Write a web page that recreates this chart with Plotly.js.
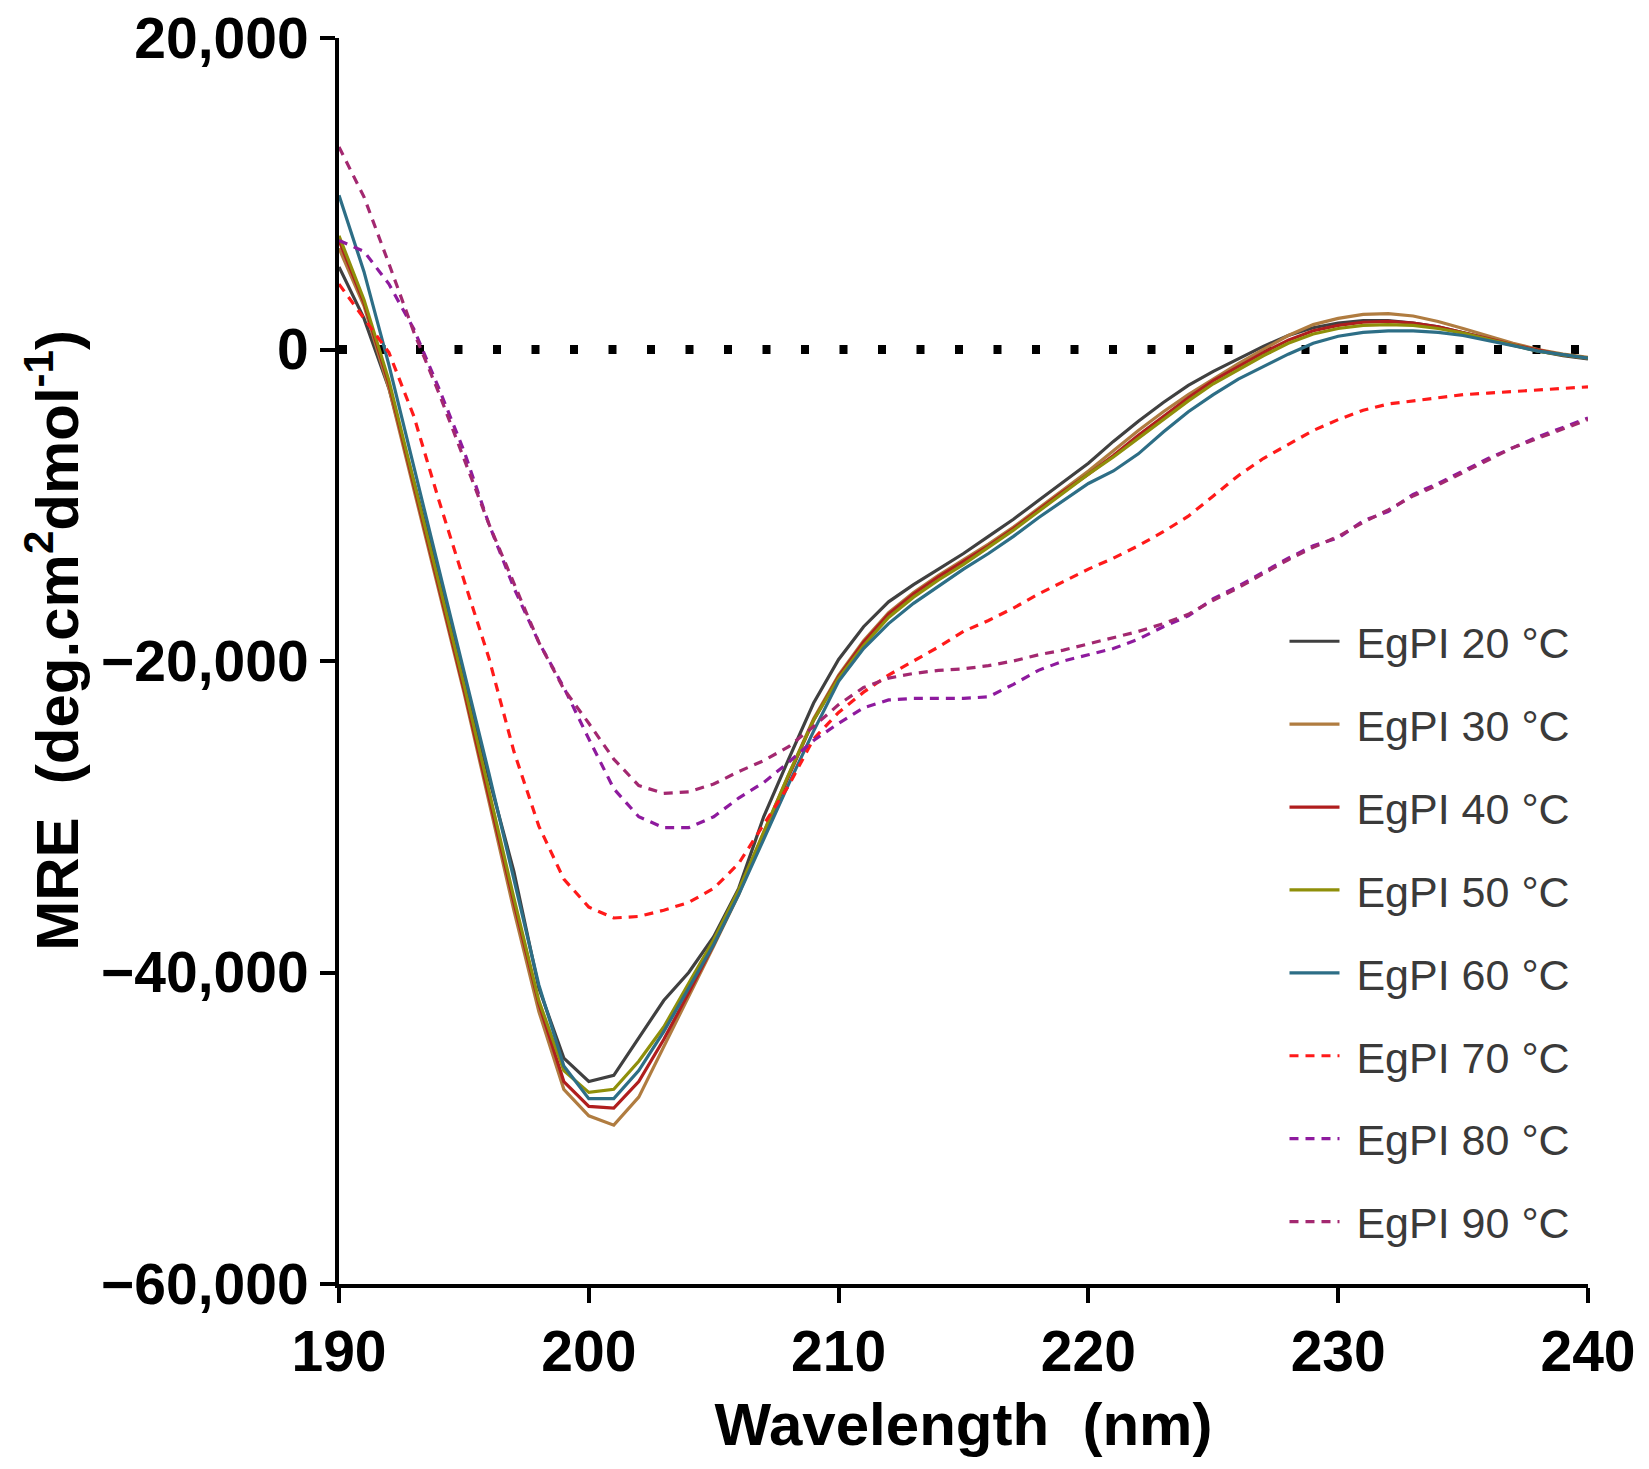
<!DOCTYPE html>
<html>
<head>
<meta charset="utf-8">
<script src="https://cdn.plot.ly/plotly-3.0.1.min.js"></script>
<style>
  body { margin: 0; background: #fff; }
  #cdchart { width: 1649px; height: 1469px; }
</style>
</head>
<body>
<div id="cdchart"></div>
<script>
// wavelength (nm)
var wavelength = [190, 191, 192, 193, 194, 195, 196, 197, 198, 199,
                  200, 201, 202, 203, 204, 205, 206, 207, 208, 209,
                  210, 211, 212, 213, 214, 215, 216, 217, 218, 219,
                  220, 221, 222, 223, 224, 225, 226, 227, 228, 229,
                  230, 231, 232, 233, 234, 235, 236, 237, 238, 239, 240];

// MRE values
var mre20 = [5300, 2000, -2500, -8500, -14500, -21000, -27500, -33500, -41000, -45500,
             -47000, -46600, -44200, -41800, -40000, -37700, -34600, -30000, -26300, -22700,
             -19900, -17800, -16200, -15100, -14100, -13100, -12000, -10900, -9700, -8500,
             -7300, -5900, -4600, -3400, -2300, -1400, -600, 200, 900, 1400,
             1700, 1850, 1850, 1700, 1450, 1100, 700, 300, -100, -400, -600];
var mre30 = [6500, 2800, -2500, -9000, -15500, -22000, -29000, -36000, -42500, -47500,
             -49200, -49800, -48000, -44800, -41500, -38300, -35000, -31000, -27300, -23700,
             -20900, -18700, -16900, -15600, -14500, -13500, -12500, -11400, -10200, -9000,
             -7800, -6500, -5200, -4000, -2900, -1900, -900, 0, 900, 1600,
             2000, 2250, 2300, 2150, 1800, 1350, 850, 400, 0, -300, -500];
var mre40 = [7000, 3000, -2200, -8800, -15200, -21800, -28700, -35500, -42000, -47000,
             -48600, -48700, -47000, -44300, -41300, -38200, -34900, -31100, -27400, -23800,
             -21000, -18800, -17000, -15700, -14600, -13600, -12600, -11500, -10300, -9100,
             -8000, -6800, -5500, -4300, -3100, -2000, -1100, -200, 600, 1200,
             1550, 1750, 1800, 1700, 1450, 1100, 700, 300, -50, -350, -550];
var mre50 = [7300, 3200, -2000, -8500, -15000, -21500, -28300, -35200, -41800, -46300,
             -47700, -47500, -45700, -43500, -40700, -37900, -34700, -31000, -27300, -23800,
             -21100, -19000, -17200, -15900, -14800, -13800, -12700, -11600, -10400, -9200,
             -8000, -6900, -5700, -4500, -3300, -2200, -1300, -400, 400, 1000,
             1350, 1550, 1600, 1550, 1350, 1050, 650, 250, -100, -350, -550];
var mre60 = [9900, 5000, -1000, -7500, -14000, -20500, -27200, -34000, -40800, -46000,
             -48100, -48100, -46300, -43800, -41000, -38200, -35000, -31400, -27900, -24500,
             -21300, -19200, -17600, -16300, -15200, -14100, -13100, -12000, -10800, -9700,
             -8600, -7800, -6700, -5300, -4000, -2900, -1900, -1100, -300, 400,
             850, 1100, 1200, 1200, 1100, 900, 600, 250, -100, -350, -550];
var mre70 = [4200, 2000, -200, -4300, -9700, -14800, -19800, -25800, -30600, -34000,
             -35800, -36500, -36400, -36000, -35500, -34600, -33000, -30500, -28000, -25000,
             -23300, -22000, -20900, -20000, -19100, -18100, -17400, -16600, -15700, -14900,
             -14100, -13400, -12600, -11700, -10700, -9400, -8100, -7000, -6100, -5200,
             -4500, -3900, -3500, -3300, -3100, -2900, -2800, -2700, -2600, -2500, -2400];
var mre80 = [7000, 6300, 4200, 1300, -2500, -6500, -11200, -15300, -18800, -21700,
             -25000, -28200, -30000, -30700, -30700, -30000, -28800, -27800, -26500, -25100,
             -24000, -23000, -22500, -22400, -22400, -22400, -22300, -21500, -20600, -20000,
             -19600, -19200, -18600, -17800, -17100, -16000, -15200, -14300, -13400, -12600,
             -12100, -11000, -10400, -9300, -8600, -7800, -7000, -6300, -5600, -5000, -4400];
var mre90 = [13000, 9800, 5500, 1100, -2800, -7000, -11200, -15000, -18800, -21800,
             -24000, -26300, -28000, -28500, -28400, -27900, -27100, -26400, -25500, -24200,
             -22800, -21700, -21100, -20800, -20600, -20500, -20300, -20000, -19600, -19300,
             -18900, -18500, -18100, -17600, -17000, -16100, -15300, -14400, -13500, -12700,
             -12000, -11100, -10300, -9400, -8700, -7900, -7100, -6300, -5700, -5100, -4500];

var seriesNames = ['EgPI 20 °C', 'EgPI 30 °C', 'EgPI 40 °C', 'EgPI 50 °C',
                   'EgPI 60 °C', 'EgPI 70 °C', 'EgPI 80 °C', 'EgPI 90 °C'];
var seriesValues = [mre20, mre30, mre40, mre50, mre60, mre70, mre80, mre90];
var seriesColors = ['#404040', '#b07c40', '#b01e1e', '#8f8f0a',
                    '#2d6e86', '#ff1a1a', '#8e1a9e', '#a32870'];
var seriesDash = ['solid', 'solid', 'solid', 'solid', 'solid', '9px,7px', '9px,7px', '9px,7px'];

var traces = [];
for (var i = 0; i < seriesNames.length; i++) {
  traces.push({
    x: wavelength,
    y: seriesValues[i],
    name: '\u00a0' + seriesNames[i],   // small gap between legend line and label
    legendgroup: 'g' + i,
    type: 'scatter',
    mode: 'lines',
    line: {color: seriesColors[i], width: 3.2, dash: seriesDash[i]}
  });
}

var axisFont = {family: 'Liberation Sans, Arial, sans-serif', size: 57, color: '#000', weight: 'bold'};
var titleFont = {family: 'Liberation Sans, Arial, sans-serif', size: 60, color: '#000', weight: 'bold'};

var layout = {
  width: 1649,
  height: 1469,
  margin: {l: 339, r: 61, t: 38, b: 185},
  paper_bgcolor: '#fff',
  plot_bgcolor: '#fff',
  font: {family: 'Liberation Sans, Arial, sans-serif'},
  xaxis: {
    range: [190, 240],
    tickvals: [190, 200, 210, 220, 230, 240],
    ticks: 'outside', ticklen: 15, tickwidth: 4, tickcolor: '#000',
    showline: true, linewidth: 4, linecolor: '#000',
    showgrid: false, zeroline: false,
    tickfont: axisFont,
    title: {text: 'Wavelength  (nm)', font: titleFont, standoff: 22}
  },
  yaxis: {
    range: [-60000, 20000],
    tickvals: [-60000, -40000, -20000, 0, 20000],
    tickformat: ',d',
    ticks: 'outside', ticklen: 15, tickwidth: 4, tickcolor: '#000',
    showline: true, linewidth: 4, linecolor: '#000',
    showgrid: false, zeroline: false,
    tickfont: axisFont
  },
  // y title as an annotation so it can sit a bit above the axis middle, as in the original
  annotations: [{
    xref: 'paper', yref: 'paper',
    x: -0.229, y: 0.517,
    xanchor: 'center', yanchor: 'middle',
    textangle: -90,
    showarrow: false,
    text: 'MRE  (deg.cm<sup>2</sup>dmol<sup>-1</sup>)',
    font: titleFont
  }],
  shapes: [{
    type: 'line', xref: 'x', yref: 'y',
    x0: 190, x1: 240, y0: 0, y1: 0,
    layer: 'below',
    line: {color: '#000', width: 9, dash: '8px,30.5px'}
  }],
  showlegend: true,
  legend: {
    x: 0.757, xanchor: 'left',
    y: 0.5435, yanchor: 'top',
    traceorder: 'grouped',
    tracegroupgap: 24,
    itemwidth: 50,
    bgcolor: 'rgba(255,255,255,0)',
    font: {family: 'Liberation Sans, Arial, sans-serif', size: 43, color: '#3a3a3a'}
  }
};

Plotly.newPlot('cdchart', traces, layout, {displayModeBar: false});
</script>
</body>
</html>
